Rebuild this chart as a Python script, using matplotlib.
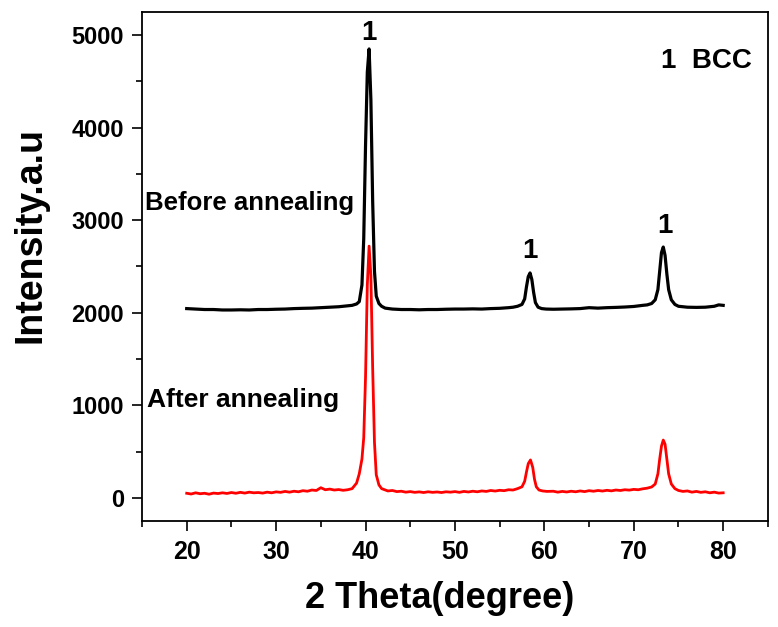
import matplotlib
matplotlib.use("Agg")
import matplotlib.pyplot as plt
from matplotlib.ticker import MultipleLocator

plt.rcParams['font.family'] = ['Liberation Sans', 'DejaVu Sans']
plt.rcParams['font.weight'] = 'bold'

# Before annealing (black)
before_x = [20, 21, 22, 23, 24, 25, 26, 27, 28, 29, 30, 31, 32, 33, 34, 35, 36, 37, 38, 38.5,
            39, 39.3, 39.6, 39.8, 40.0, 40.2, 40.4, 40.6, 40.8, 41.0, 41.2, 41.5, 41.8, 42.2,
            43, 44, 45, 46, 47, 48, 49, 50, 51, 52, 53, 54, 55, 56, 56.5, 57, 57.5, 57.8,
            58.0, 58.2, 58.4, 58.6, 58.8, 59.0, 59.3, 59.7, 60.2, 61, 62, 63, 64, 65, 66, 67,
            68, 69, 70, 71, 71.5, 72, 72.4, 72.7, 72.9, 73.1, 73.3, 73.5, 73.7, 73.9, 74.2,
            74.6, 75, 76, 77, 78, 79, 79.5, 80]
before_y = [2045, 2040, 2035, 2035, 2030, 2030, 2032, 2030, 2035, 2035, 2038, 2040, 2045, 2048,
            2050, 2055, 2060, 2065, 2075, 2080,
            2095, 2120, 2300, 2800, 3800, 4600, 4850, 4300, 3200, 2450, 2180, 2100, 2070, 2050,
            2040, 2035, 2035, 2032, 2035, 2035, 2038, 2040, 2040, 2042, 2040, 2045, 2048, 2055,
            2060, 2070, 2090, 2150,
            2280, 2390, 2430, 2360, 2220, 2110, 2060, 2045, 2040, 2038, 2040, 2042, 2045, 2055,
            2050, 2055, 2058, 2062, 2068, 2080, 2085, 2100, 2140, 2250, 2450, 2650, 2710, 2620,
            2420, 2250, 2140, 2090, 2070, 2060, 2058, 2060, 2070, 2085, 2080]

# After annealing (red)
after_x = [20, 20.5, 21, 21.5, 22, 22.5, 23, 23.5, 24, 24.5, 25, 25.5, 26, 26.5, 27, 27.5, 28,
           28.5, 29, 29.5, 30, 30.5, 31, 31.5, 32, 32.5, 33, 33.5, 34, 34.5, 35, 35.5, 36, 36.5,
           37, 37.5, 38, 38.5, 39, 39.3, 39.6, 39.8, 40.0, 40.2, 40.4, 40.6, 40.8, 41.0, 41.2,
           41.5, 41.8, 42.2, 42.5, 43, 43.5, 44, 44.5, 45, 45.5, 46, 46.5, 47, 47.5, 48, 48.5,
           49, 49.5, 50, 50.5, 51, 51.5, 52, 52.5, 53, 53.5, 54, 54.5, 55, 55.5, 56, 56.5, 57,
           57.5, 57.8, 58.0, 58.2, 58.45, 58.7, 58.9, 59.1, 59.4, 59.8, 60.3, 61, 61.5, 62,
           62.5, 63, 63.5, 64, 64.5, 65, 65.5, 66, 66.5, 67, 67.5, 68, 68.5, 69, 69.5, 70, 70.5,
           71, 71.5, 72, 72.4, 72.7, 72.9, 73.1, 73.3, 73.5, 73.7, 73.9, 74.2, 74.6, 75, 75.5,
           76, 76.5, 77, 77.5, 78, 78.5, 79, 79.5, 80]
after_y = [50, 42, 55, 45, 50, 40, 52, 47, 55, 48, 58, 50, 60, 52, 62, 55, 58,
           52, 62, 55, 65, 60, 70, 62, 72, 66, 78, 72, 85, 80, 110, 88, 95, 85,
           90, 82, 88, 100, 160, 260, 420, 650, 1300, 2300, 2720, 2400, 1400, 600, 250,
           140, 100, 85, 75, 80, 68, 72, 62, 68, 60, 65, 58, 66, 60, 64, 58,
           66, 62, 68, 60, 70, 64, 72, 66, 75, 70, 80, 74, 82, 78, 88, 85, 100,
           120, 180, 280, 370, 410, 330, 200, 120, 85, 75, 70, 72, 62, 70,
           64, 72, 66, 75, 68, 78, 72, 80, 74, 82, 76, 85, 80, 88, 84, 92, 88,
           98, 105, 118, 150, 260, 420, 560, 625, 580, 420, 260, 150, 100, 80, 70,
           75, 62, 70, 60, 66, 55, 62, 52, 55]

x_ticks = [20, 30, 40, 50, 60, 70, 80]
y_ticks = [0, 1000, 2000, 3000, 4000, 5000]

fig = plt.figure(figsize=(7.78, 6.27), dpi=100)
ax = fig.add_axes([0.1825, 0.169, 0.8045, 0.812])

ax.plot(before_x, before_y, color='black', lw=2.3)
ax.plot(after_x, after_y, color='red', lw=2.0)

ax.set_xlim(15, 85)
ax.set_ylim(-250, 5250)
ax.set_xticks(x_ticks)
ax.set_yticks(y_ticks)
ax.xaxis.set_minor_locator(MultipleLocator(5))
ax.yaxis.set_minor_locator(MultipleLocator(500))
ax.tick_params(axis='both', which='major', direction='out', length=7, width=1.2,
               top=False, right=False)
ax.tick_params(axis='both', which='minor', direction='out', length=4, width=1.2,
               top=False, right=False)
ax.tick_params(axis='x', which='major', labelsize=18, pad=7)
ax.tick_params(axis='y', which='major', labelsize=17, pad=6)
for lab in ax.get_xticklabels() + ax.get_yticklabels():
    lab.set_fontweight('bold')
for s in ax.spines.values():
    s.set_linewidth(1.3)

ax.set_xlabel('2 Theta(degree)', fontsize=26, fontweight='bold')
ax.set_ylabel('Intensity.a.u', fontsize=27, fontweight='bold')
ax.xaxis.set_label_coords(0.476, -0.117)
ax.yaxis.set_label_coords(-0.150, 0.562)

ax.text(15.3, 3110, 'Before annealing', fontsize=18.5, fontweight='bold', va='baseline', ha='left')
ax.text(15.6, 985, 'After annealing', fontsize=19, fontweight='bold', va='baseline', ha='left')
ax.text(40.4, 4950, '1', fontsize=20, fontweight='bold', va='baseline', ha='center')
ax.text(58.4, 2590, '1', fontsize=20, fontweight='bold', va='baseline', ha='center')
ax.text(73.45, 2860, '1', fontsize=20, fontweight='bold', va='baseline', ha='center')
ax.text(73.0, 4645, '1  BCC', fontsize=20, fontweight='bold', va='baseline', ha='left')

fig.savefig('out.png', dpi=100)
